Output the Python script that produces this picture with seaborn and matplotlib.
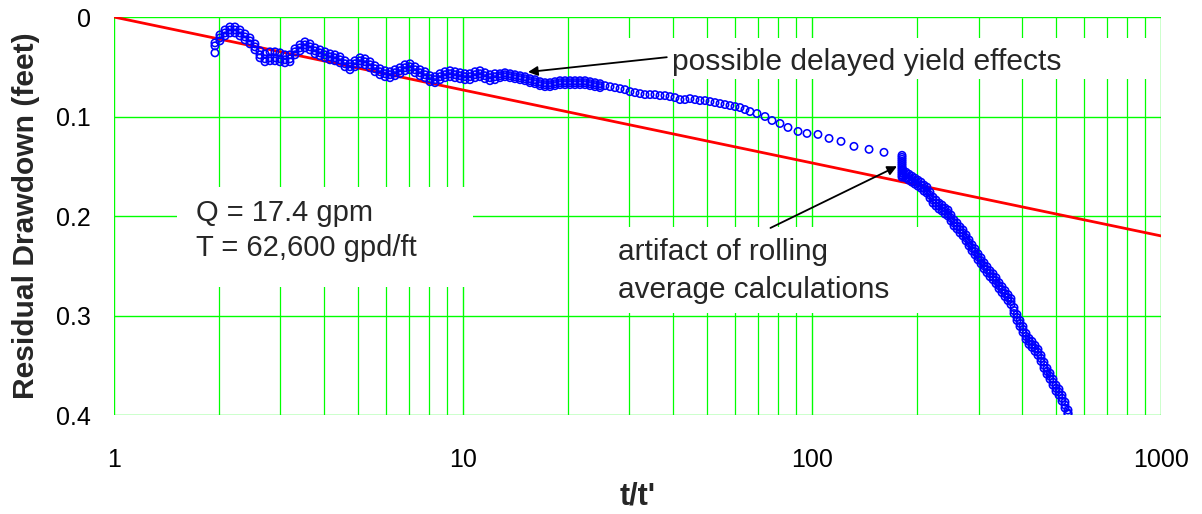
import pandas as pd
import matplotlib
matplotlib.use("Agg")
import matplotlib.pyplot as plt
import seaborn as sns
from matplotlib.patches import Rectangle
from matplotlib.ticker import LogLocator, FixedLocator, NullFormatter

# early recovery band (t/t' ~ 2-25), read as upper edge, middle and lower edge of the noisy band
early_t = [1.947, 2.012, 2.080, 2.149, 2.222, 2.296, 2.373, 2.453, 2.535, 2.620, 2.708, 2.799, 2.893, 2.990,
           3.090, 3.194, 3.301, 3.412, 3.526, 3.644, 3.767, 3.893, 4.024, 4.159, 4.298, 4.442,
           4.591, 4.745, 4.904, 5.069, 5.239, 5.414, 5.596, 5.784, 5.978, 6.178, 6.386, 6.600,
           6.821, 7.050, 7.287, 7.531, 7.784, 8.045, 8.315, 8.594, 8.882, 9.180, 9.488, 9.806,
           10.13, 10.47, 10.83, 11.19, 11.56, 11.95, 12.35, 12.77, 13.19, 13.64, 14.09,
           14.57, 15.06, 15.56, 16.08, 16.62, 17.18, 17.76, 18.35, 18.97, 19.61, 20.26, 20.94,
           21.64, 22.37, 23.12, 23.89, 24.70]
early_upper = [0.026, 0.018, 0.013, 0.010, 0.010, 0.013, 0.017, 0.021, 0.027, 0.034, 0.037, 0.035, 0.035, 0.036,
               0.038, 0.038, 0.032, 0.028, 0.025, 0.027, 0.031, 0.033, 0.035, 0.037, 0.038, 0.040,
               0.044, 0.047, 0.044, 0.041, 0.042, 0.045, 0.049, 0.052, 0.054, 0.055, 0.053, 0.051,
               0.048, 0.047, 0.050, 0.053, 0.055, 0.059, 0.060, 0.057, 0.055, 0.054, 0.055, 0.056,
               0.057, 0.057, 0.055, 0.054, 0.056, 0.058, 0.057, 0.057, 0.056, 0.057, 0.058,
               0.059, 0.060, 0.062, 0.063, 0.065, 0.066, 0.066, 0.065, 0.064, 0.064, 0.064, 0.064,
               0.064, 0.064, 0.065, 0.066, 0.067]
early_mid = [0.029, 0.021, 0.016, 0.013, 0.013, 0.016, 0.020, 0.024, 0.030, 0.038, 0.042, 0.041, 0.041, 0.042,
             0.043, 0.042, 0.035, 0.031, 0.028, 0.030, 0.034, 0.036, 0.038, 0.040, 0.041, 0.043,
             0.047, 0.050, 0.047, 0.044, 0.045, 0.048, 0.052, 0.055, 0.057, 0.058, 0.056, 0.054,
             0.051, 0.050, 0.053, 0.056, 0.058, 0.062, 0.063, 0.060, 0.058, 0.057, 0.058, 0.059,
             0.060, 0.060, 0.058, 0.057, 0.059, 0.061, 0.060, 0.059, 0.058, 0.059, 0.060,
             0.061, 0.062, 0.064, 0.065, 0.067, 0.068, 0.068, 0.067, 0.066, 0.066, 0.066, 0.066,
             0.066, 0.066, 0.067, 0.068, 0.069]
early_lower = [0.036, 0.024, 0.019, 0.016, 0.016, 0.019, 0.023, 0.027, 0.033, 0.041, 0.045, 0.044, 0.044, 0.045,
               0.046, 0.045, 0.038, 0.034, 0.031, 0.033, 0.037, 0.039, 0.041, 0.043, 0.044, 0.046,
               0.050, 0.053, 0.050, 0.047, 0.048, 0.051, 0.055, 0.058, 0.060, 0.061, 0.059, 0.057,
               0.054, 0.053, 0.056, 0.059, 0.061, 0.065, 0.066, 0.063, 0.061, 0.060, 0.061, 0.062,
               0.063, 0.063, 0.061, 0.060, 0.062, 0.064, 0.063, 0.061, 0.060, 0.061, 0.062,
               0.063, 0.064, 0.066, 0.067, 0.069, 0.070, 0.070, 0.069, 0.068, 0.068, 0.068, 0.068,
               0.068, 0.068, 0.069, 0.070, 0.071]

# single readings, t/t' ~ 25-160
mid_t = [25.52, 26.38, 27.26, 28.18, 29.12, 30.09, 31.11, 32.15, 33.22, 34.34,
         35.49, 36.68, 37.91, 39.18, 40.49, 41.85, 43.25, 44.70, 46.21, 47.76,
         49.36, 51.01, 52.73, 54.50, 56.32, 58.21, 60.17, 62.18, 64.27, 66.42,
         69.57, 73.34, 76.81, 80.97, 85.35, 91.19, 96.76, 104.0, 111.9, 121.1,
         131.9, 145.7, 160.8]
mid_s = [0.069, 0.070, 0.071, 0.072, 0.073, 0.075, 0.076, 0.077, 0.078, 0.078,
         0.078, 0.079, 0.079, 0.080, 0.081, 0.083, 0.083, 0.082, 0.083, 0.084,
         0.084, 0.085, 0.086, 0.087, 0.088, 0.089, 0.090, 0.091, 0.093, 0.095,
         0.097, 0.100, 0.104, 0.107, 0.111, 0.115, 0.117, 0.118, 0.122, 0.125,
         0.130, 0.133, 0.136]

# rolling average artifact (vertical stack at t/t' ~ 181)
step_s = [0.139, 0.141, 0.143, 0.145, 0.147, 0.149, 0.151, 0.153, 0.155, 0.157, 0.159, 0.161]
step_t = [181.1] * len(step_s)

# late (early-time) recovery band, t/t' ~ 182-540
late_t = [182.3, 186.0, 189.6, 193.4, 197.3, 201.2, 205.3, 209.4, 213.5, 217.8,
          222.2, 226.6, 231.2, 235.8, 240.5, 245.3, 250.2, 255.2, 260.3, 265.5,
          270.8, 276.3, 281.8, 287.4, 293.1, 299.0, 305.0, 311.1, 317.3, 323.6,
          330.1, 336.7, 343.4, 350.3, 357.3, 364.4, 371.7, 379.1, 386.7, 394.4,
          402.3, 410.4, 418.6, 426.9, 435.5, 444.2, 453.1, 462.1, 471.4, 480.8,
          490.4, 500.2, 510.2, 520.4, 530.8, 541.4]
late_upper = [0.154, 0.156, 0.158, 0.160, 0.162, 0.164, 0.166, 0.169, 0.171, 0.176,
              0.181, 0.184, 0.187, 0.189, 0.192, 0.194, 0.199, 0.204, 0.207, 0.211,
              0.214, 0.219, 0.224, 0.229, 0.233, 0.238, 0.242, 0.247, 0.251, 0.255,
              0.258, 0.262, 0.267, 0.271, 0.275, 0.279, 0.283, 0.292, 0.299, 0.305,
              0.311, 0.318, 0.323, 0.326, 0.330, 0.334, 0.340, 0.347, 0.353, 0.358,
              0.364, 0.370, 0.374, 0.380, 0.387, 0.395]
late_mid = [0.157, 0.159, 0.161, 0.163, 0.165, 0.167, 0.169, 0.172, 0.174, 0.179,
            0.184, 0.187, 0.190, 0.192, 0.195, 0.197, 0.202, 0.207, 0.210, 0.214,
            0.217, 0.222, 0.227, 0.232, 0.236, 0.241, 0.245, 0.250, 0.254, 0.258,
            0.261, 0.265, 0.270, 0.274, 0.278, 0.282, 0.286, 0.295, 0.302, 0.308,
            0.314, 0.321, 0.326, 0.329, 0.333, 0.337, 0.343, 0.350, 0.356, 0.361,
            0.367, 0.373, 0.377, 0.383, 0.390, 0.398]
late_lower = [0.160, 0.162, 0.164, 0.166, 0.168, 0.170, 0.172, 0.175, 0.177, 0.182,
              0.187, 0.190, 0.193, 0.195, 0.198, 0.200, 0.205, 0.210, 0.213, 0.217,
              0.220, 0.225, 0.230, 0.235, 0.239, 0.244, 0.248, 0.253, 0.257, 0.261,
              0.264, 0.268, 0.273, 0.277, 0.281, 0.285, 0.289, 0.298, 0.305, 0.311,
              0.317, 0.324, 0.329, 0.332, 0.336, 0.340, 0.346, 0.353, 0.359, 0.364,
              0.370, 0.376, 0.380, 0.386, 0.393, 0.399]

# straight-line (Cooper-Jacob) fit
fit_t = [1, 1000]
fit_s = [0.0, 0.22]

x_ticks = [1, 10, 100, 1000]
x_labels = ["1", "10", "100", "1000"]
y_ticks = [0.0, 0.1, 0.2, 0.3, 0.4]
y_labels = ["0", "0.1", "0.2", "0.3", "0.4"]

df = pd.concat([
    pd.DataFrame({"t_ratio": early_t, "drawdown": early_upper}),
    pd.DataFrame({"t_ratio": early_t, "drawdown": early_mid}),
    pd.DataFrame({"t_ratio": early_t, "drawdown": early_lower}),
    pd.DataFrame({"t_ratio": mid_t, "drawdown": mid_s}),
    pd.DataFrame({"t_ratio": step_t, "drawdown": step_s}),
    pd.DataFrame({"t_ratio": late_t, "drawdown": late_upper}),
    pd.DataFrame({"t_ratio": late_t, "drawdown": late_mid}),
    pd.DataFrame({"t_ratio": late_t, "drawdown": late_lower}),
], ignore_index=True)

sns.set_theme(style="white")
plt.rcParams["font.family"] = ["Liberation Sans", "DejaVu Sans"]

green = "#00ff00"
fig = plt.figure(figsize=(12.02, 5.14), dpi=100)
ax = fig.add_axes([0.0948, 0.1926, 0.8711, 0.7743])

sns.lineplot(x=fit_t, y=fit_s, color="#ff0000", linewidth=2.0, ax=ax, zorder=3)
sns.scatterplot(data=df, x="t_ratio", y="drawdown", marker="o", s=28,
                facecolor="none", edgecolor="#0000ff", linewidth=1.15, ax=ax, zorder=4)

ax.set_xscale("log")
ax.set_xlim(1, 1000)
ax.set_ylim(0.4, 0)
ax.xaxis.set_major_locator(FixedLocator(x_ticks))
ax.set_xticklabels(x_labels)
ax.xaxis.set_minor_locator(LogLocator(base=10, subs=range(2, 10)))
ax.xaxis.set_minor_formatter(NullFormatter())
ax.set_yticks(y_ticks)
ax.set_yticklabels(y_labels)

ax.set_axisbelow(True)
ax.grid(True, which="major", color=green, linewidth=1.0)
ax.grid(True, which="minor", axis="x", color=green, linewidth=0.9)
for sp in ax.spines.values():
    sp.set_visible(False)
ax.tick_params(axis="both", which="major", direction="out", length=6.5, width=0.9,
               color=green, labelsize=18, labelcolor="black")
ax.tick_params(axis="y", which="major", pad=10)
ax.tick_params(axis="x", which="major", pad=17)
ax.tick_params(axis="x", which="minor", length=0)

# white text boxes hiding the grid
for (x0, y0, w, h) in [(0.485, 0.844, 0.512, 0.103), (0.464, 0.256, 0.320, 0.216), (0.060, 0.322, 0.283, 0.251)]:
    ax.add_patch(Rectangle((x0, y0), w, h, transform=ax.transAxes, facecolor="white",
                           edgecolor="none", zorder=2))

ax.text(0.533, 0.887, "possible delayed yield effects", transform=ax.transAxes,
        fontsize=21.6, ha="left", va="center", zorder=5)
ax.text(0.481, 0.362, "artifact of rolling\naverage calculations", transform=ax.transAxes,
        fontsize=21.4, ha="left", va="center", linespacing=1.45, zorder=5)
ax.text(0.078, 0.463, "Q = 17.4 gpm\nT = 62,600 gpd/ft", transform=ax.transAxes,
        fontsize=21, ha="left", va="center", linespacing=1.3, zorder=5)

arrow = dict(arrowstyle="-|>", color="black", lw=1.3, mutation_scale=14, shrinkA=0, shrinkB=0)
ax.annotate("", xy=(15.36, 0.0553), xycoords="data", xytext=(0.528, 0.899),
            textcoords="axes fraction", arrowprops=arrow, zorder=5)
ax.annotate("", xy=(175.2, 0.150), xycoords="data", xytext=(0.627, 0.470),
            textcoords="axes fraction", arrowprops=arrow, zorder=5)

ax.set_xlabel("t/t'", fontsize=22, fontweight="bold")
ax.set_ylabel("Residual Drawdown (feet)", fontsize=21.6, fontweight="bold")
ax.xaxis.label.set_va("center")
ax.yaxis.label.set_va("center")
ax.xaxis.set_label_coords(0.5, -0.206)
ax.yaxis.set_label_coords(-0.084, 0.5)

fig.savefig("out.png", dpi=100)
